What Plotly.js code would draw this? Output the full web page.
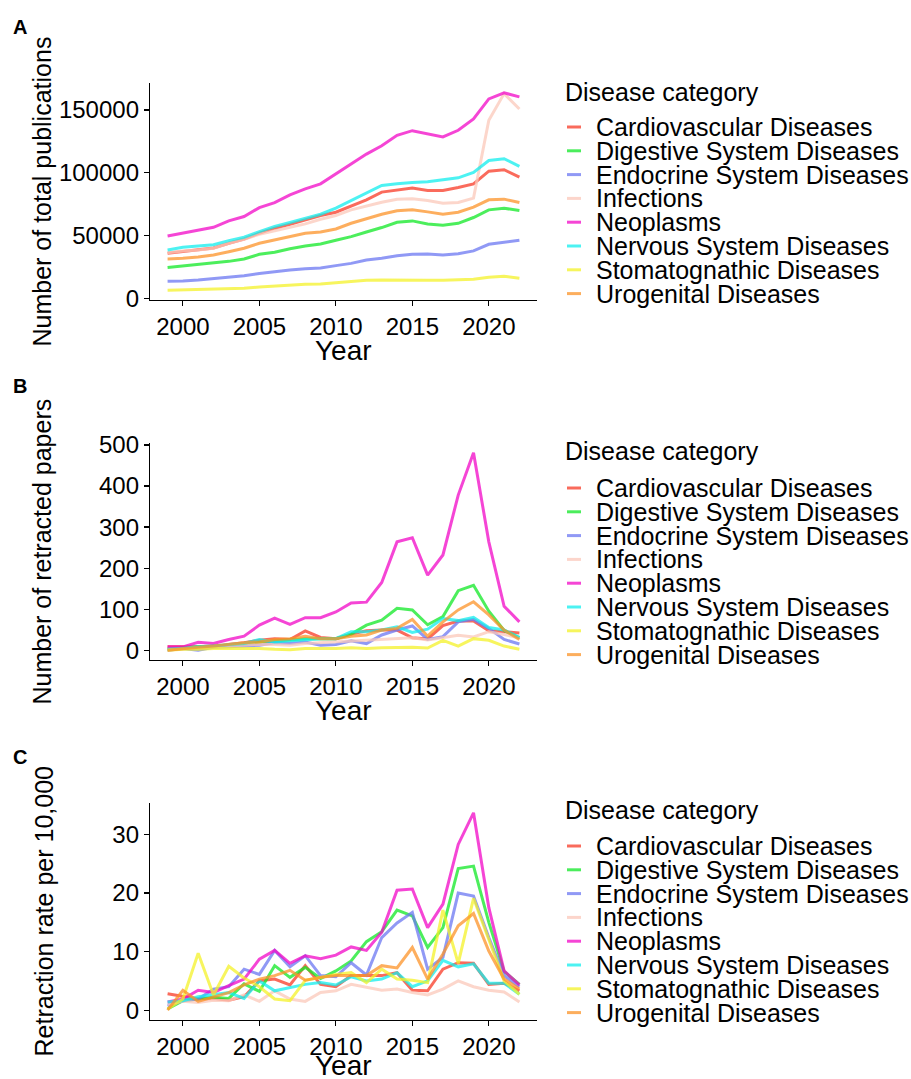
<!DOCTYPE html>
<html>
<head>
<meta charset="utf-8">
<script src="https://cdn.plot.ly/plotly-3.0.1.min.js"></script>
<style>
html,body{margin:0;padding:0;background:#fff;}
#chart{width:911px;height:1079px;}
</style>
</head>
<body>
<div id="chart"></div>
<script>
// ---------------- DATA ----------------
const years = [1999,2000,2001,2002,2003,2004,2005,2006,2007,2008,2009,2010,2011,2012,2013,2014,2015,2016,2017,2018,2019,2020,2021,2022];
const categories = ["Cardiovascular Diseases","Digestive System Diseases","Endocrine System Diseases","Infections","Neoplasms","Nervous System Diseases","Stomatognathic Diseases","Urogenital Diseases"];
const colors = ["#F83A26","#10E826","#6B77F2","#FBC8BA","#F207C7","#12EEEE","#F4F228","#FC9328"];

// Panel A: number of total publications
const pubCardio     = [35900,37200,38600,40200,43900,47300,51900,55900,59000,62500,66000,68600,73700,78500,84600,85900,87800,85900,85900,88300,91200,101300,102400,96500];
const pubDigestive  = [24700,25800,26900,28500,29500,31400,35100,36700,39600,41800,43400,46300,49200,52900,56400,60600,61700,59300,58200,59800,64400,70500,71800,69900];
const pubEndocrine  = [13600,13800,14600,15700,16800,18100,19900,21500,22600,23700,24200,26100,27900,30600,31900,34000,35100,35400,34600,35600,37800,43100,44900,46300];
const pubInfections = [36400,37800,38600,39900,43900,47100,51100,53700,56400,59300,63000,66000,70500,73700,76600,79000,79300,77900,75800,76300,79800,141800,163000,150800];
const pubNeoplasms  = [49700,51900,54000,56600,61700,65200,72300,76300,82400,87200,91200,99200,107200,114900,121500,129800,133500,131100,128500,133800,142800,158800,163600,160400];
const pubNervous    = [38600,40700,41800,42800,46000,48700,53200,57200,60400,63800,67000,71800,77700,83500,89900,91200,92300,92800,94400,96000,100300,109800,111200,105100];
const pubStomato    = [6600,6900,7200,7400,8000,8200,9000,9800,10400,11200,11400,12500,13600,14400,14600,14400,14600,14400,14400,14600,15200,16800,17600,16000];
const pubUrogenital = [31400,31900,33000,34600,37200,39900,43900,46500,49700,51900,52900,55300,59800,63300,67000,69700,70500,68900,67000,68600,72600,78500,79000,76300];

// Panel B: number of retracted papers
const retCardio     = [8,8,7,8,14,18,24,28,26,47,31,28,39,47,49,49,30,27,60,71,71,47,45,42];
const retDigestive  = [2,6,8,10,12,14,19,22,24,28,28,28,39,61,73,102,98,62,82,145,158,95,48,30];
const retEndocrine  = [0,4,0,7,8,10,12,18,16,20,12,14,23,16,37,49,59,26,33,69,75,53,26,15];
const retInfections = [2,4,5,8,10,12,14,14,12,16,18,20,22,24,26,28,30,25,30,36,32,45,38,30];
const retNeoplasms  = [8,8,19,16,26,34,61,78,63,79,79,93,115,117,165,264,274,183,232,378,481,264,107,69];
const retNervous    = [2,4,8,10,14,16,26,20,23,26,28,28,45,45,49,57,43,51,77,72,80,55,49,31];
const retStomato    = [0,2,2,4,4,4,4,2,1,4,4,4,6,4,6,7,7,5,24,10,28,24,10,2];
const retUrogenital = [0,4,7,10,14,18,20,26,28,34,28,28,34,37,49,53,75,34,69,98,118,86,49,26];

// Panel C: retraction rate per 10,000
const rateCardio     = [2.8,2.4,1.9,2.0,1.7,2.3,5.0,5.3,4.3,7.6,4.4,4.0,5.9,5.9,5.9,6.4,3.4,3.3,7.0,8.1,8.0,4.4,4.6,3.3];
const rateDigestive  = [0.2,1.6,1.9,2.2,2.0,4.5,3.2,7.6,5.6,7.3,5.4,6.7,8.4,11.7,13.4,17.1,16.1,10.7,14.1,24.2,24.6,15.0,6.6,4.4];
const rateEndocrine  = [0.7,1.6,1.9,3.6,4.0,7.0,6.1,10.2,7.4,9.3,5.9,5.7,8.1,6.0,12.4,14.9,16.7,7.0,9.0,20.0,19.5,12.4,5.9,4.0];
const rateInfections = [1.0,1.5,1.3,1.7,1.6,2.6,1.5,3.3,1.9,1.5,3.0,3.3,4.4,3.9,3.4,3.6,3.0,2.6,3.6,5.0,4.0,3.4,3.1,1.4];
const rateNeoplasms  = [1.4,1.9,3.4,3.0,4.2,5.3,8.7,10.2,8.0,9.3,8.8,9.4,10.8,10.2,13.3,20.5,20.7,14.1,18.1,28.3,33.7,17.5,6.7,4.3];
const rateNervous    = [1.4,1.6,2.3,2.7,3.0,2.0,5.0,3.3,3.9,4.4,4.7,4.3,5.7,5.0,5.3,6.4,4.0,5.0,8.5,7.4,7.9,4.6,4.6,2.7];
const rateStomato    = [0.2,1.9,9.7,2.6,7.5,5.5,4.0,1.9,1.6,5.1,5.6,6.1,6.4,4.7,7.0,5.3,5.1,4.7,17.1,8.0,19.1,12.0,5.0,2.7];
const rateUrogenital = [0.0,3.4,1.5,2.2,3.0,4.3,5.3,5.9,6.8,5.1,5.6,5.9,5.9,5.9,7.6,7.2,10.7,5.3,9.6,14.4,16.5,10.1,5.3,3.6];

const yTitles = ["Number of total publications","Number of retracted papers","Retraction rate per 10,000"];
const xTitle = "Year";
const legendTitle = "Disease category";
const panelLetters = ["A","B","C"];
const xTicks = [2000,2005,2010,2015,2020];
const yTicksA = [0,50000,100000,150000];
const yTicksB = [0,100,200,300,400,500];
const yTicksC = [0,10,20,30];

const panels = [
  [pubCardio,pubDigestive,pubEndocrine,pubInfections,pubNeoplasms,pubNervous,pubStomato,pubUrogenital],
  [retCardio,retDigestive,retEndocrine,retInfections,retNeoplasms,retNervous,retStomato,retUrogenital],
  [rateCardio,rateDigestive,rateEndocrine,rateInfections,rateNeoplasms,rateNervous,rateStomato,rateUrogenital]
];

// ---------------- LAYOUT HELPERS ----------------
const W = 911, H = 1079;
const xp = px => px / W;
const yp = py => 1 - py / H;
const LINE_OPACITY = 0.75;
const FONT = "Liberation Sans, Arial, Helvetica, sans-serif";

const plotLeft = 150, plotRight = 537;
const panelTops = [83, 443, 803];
const panelBottoms = [300, 660, 1020];
const legendTitleY = [92, 451, 810];
const legendFirstY = [127, 488, 846];
const legendStep = 23.8;
const letterY = [27, 386, 757];
const xTitleY = [350, 710, 1065];
const yTitleX = [41, 41, 43];

function yRange(arr) {
  let mn = Infinity, mx = -Infinity;
  arr.forEach(s => s.forEach(v => { mn = Math.min(mn, v); mx = Math.max(mx, v); }));
  const e = (mx - mn) * 0.05;
  return [mn - e, mx + e];
}
const xr = [years[0] - (years[years.length-1]-years[0])*0.05, years[years.length-1] + (years[years.length-1]-years[0])*0.05];

const traces = [];
panels.forEach((series, p) => {
  const sfx = p === 0 ? "" : String(p + 1);
  series.forEach((vals, i) => {
    traces.push({
      type: "scatter", mode: "lines",
      x: years, y: vals,
      name: categories[i],
      xaxis: "x" + sfx, yaxis: "y" + sfx,
      line: {color: colors[i], width: 3},
      opacity: LINE_OPACITY,
      showlegend: false,
      hoverinfo: "x+y+name"
    });
  });
});

const axisCommon = {
  showline: true, linecolor: "#000", linewidth: 1.2,
  ticks: "outside", ticklen: 5, tickwidth: 1.2, tickcolor: "#000",
  showgrid: false, zeroline: false,
  tickfont: {family: FONT, size: 24, color: "#000"}
};

const layout = {
  width: W, height: H, autosize: false,
  margin: {l: 0, r: 0, t: 0, b: 0},
  paper_bgcolor: "#fff", plot_bgcolor: "#fff",
  showlegend: false,
  font: {family: FONT, color: "#000"},
  annotations: [], shapes: []
};
const yTickSets = [yTicksA, yTicksB, yTicksC];
panels.forEach((series, p) => {
  const sfx = p === 0 ? "" : String(p + 1);
  layout["xaxis" + sfx] = Object.assign({}, axisCommon, {
    domain: [xp(plotLeft), xp(plotRight)],
    range: xr, anchor: "y" + sfx,
    tickmode: "array", tickvals: xTicks, ticktext: xTicks.map(String)
  });
  layout["yaxis" + sfx] = Object.assign({}, axisCommon, {
    domain: [yp(panelBottoms[p]), yp(panelTops[p])],
    range: yRange(series), anchor: "x" + sfx,
    tickmode: "array", tickvals: yTickSets[p], ticktext: yTickSets[p].map(String)
  });
  // axis titles
  layout.annotations.push({
    text: yTitles[p], textangle: -90, showarrow: false,
    xref: "paper", yref: "paper", x: xp(yTitleX[p]), y: yp((panelTops[p] + panelBottoms[p]) / 2),
    xanchor: "center", yanchor: "middle",
    font: {family: FONT, size: 25, color: "#000"}
  });
  layout.annotations.push({
    text: xTitle, showarrow: false,
    xref: "paper", yref: "paper", x: xp((plotLeft + plotRight) / 2), y: yp(xTitleY[p]),
    xanchor: "center", yanchor: "middle",
    font: {family: FONT, size: 28, color: "#000"}
  });
  // panel letter
  layout.annotations.push({
    text: "<b>" + panelLetters[p] + "</b>", showarrow: false,
    xref: "paper", yref: "paper", x: xp(11), y: yp(letterY[p]),
    xanchor: "left", yanchor: "middle",
    font: {family: FONT, size: 20, color: "#000"}
  });
  // legend
  layout.annotations.push({
    text: legendTitle, showarrow: false,
    xref: "paper", yref: "paper", x: xp(563), y: yp(legendTitleY[p]),
    xanchor: "left", yanchor: "middle",
    font: {family: FONT, size: 25, color: "#000"}
  });
  categories.forEach((c, i) => {
    const yy = legendFirstY[p] + i * legendStep;
    layout.shapes.push({
      type: "line", xref: "paper", yref: "paper",
      x0: xp(567), x1: xp(581), y0: yp(yy), y1: yp(yy),
      line: {color: colors[i], width: 3}, opacity: LINE_OPACITY
    });
    layout.annotations.push({
      text: c, showarrow: false,
      xref: "paper", yref: "paper", x: xp(594), y: yp(yy),
      xanchor: "left", yanchor: "middle",
      font: {family: FONT, size: 25, color: "#000"}
    });
  });
});

Plotly.newPlot("chart", traces, layout, {displayModeBar: false, staticPlot: true});
</script>
</body>
</html>
